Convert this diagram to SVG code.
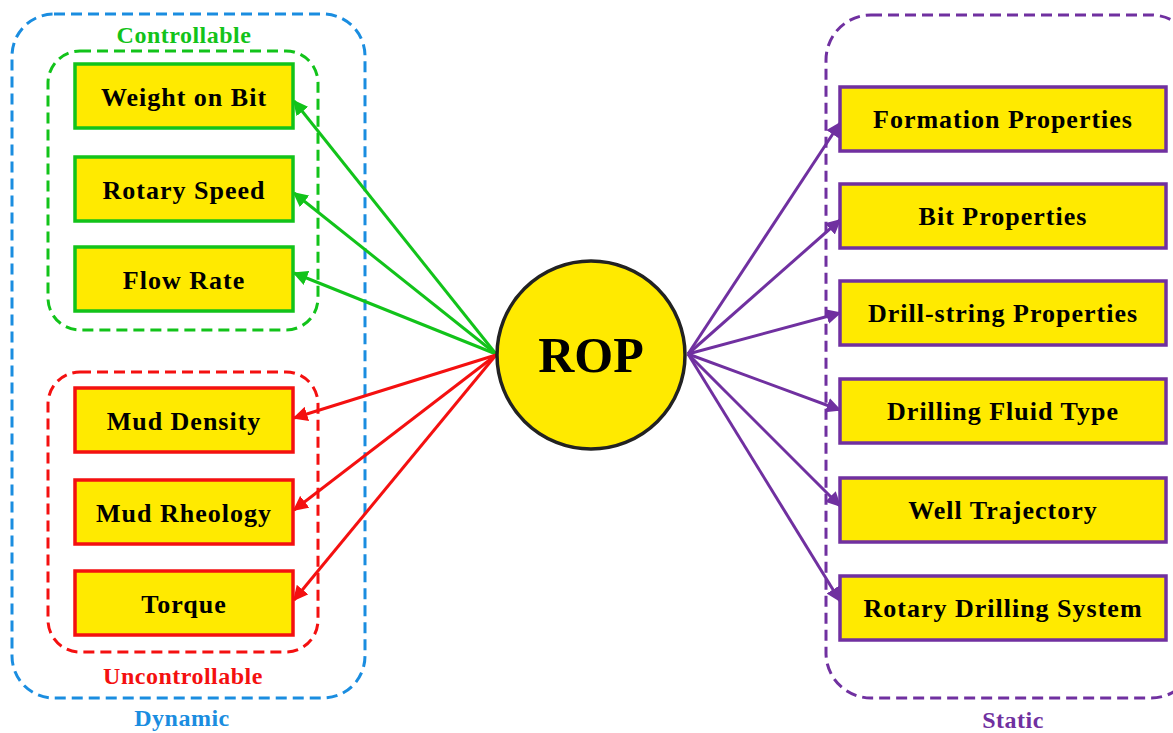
<svg xmlns="http://www.w3.org/2000/svg" width="1173" height="733" viewBox="0 0 1173 733">
<style>
.box{fill:#FFEA00;stroke-width:3.5}
.bt{font-family:"Liberation Serif",serif;font-weight:bold;font-size:26px;letter-spacing:1px;text-anchor:middle;fill:#000}
.lbl{font-family:"Liberation Serif",serif;font-weight:bold;font-size:24px;letter-spacing:0.5px;text-anchor:middle}
.dash{fill:none;stroke-width:3;stroke-dasharray:11 6}
.g{stroke:#12C31A}.r{stroke:#F41010}.p{stroke:#7030A0}.b{stroke:#1A8DE0}
.conn line{stroke-width:3}
</style>
<defs>
<marker id="ag" viewBox="0 0 10 10" refX="9" refY="5" markerWidth="5" markerHeight="5" orient="auto" markerUnits="strokeWidth"><path d="M0,0 L10,5 L0,10 z" fill="#12C31A"/></marker>
<marker id="ar" viewBox="0 0 10 10" refX="9" refY="5" markerWidth="5" markerHeight="5" orient="auto" markerUnits="strokeWidth"><path d="M0,0 L10,5 L0,10 z" fill="#F41010"/></marker>
<marker id="ap" viewBox="0 0 10 10" refX="9" refY="5" markerWidth="5" markerHeight="5" orient="auto" markerUnits="strokeWidth"><path d="M0,0 L10,5 L0,10 z" fill="#7030A0"/></marker>
</defs>
<rect width="1173" height="733" fill="#fff"/>

<g id="group-dynamic">
<rect class="dash b" x="12" y="14" width="353" height="684" rx="42"/>
<text class="lbl" x="182" y="726" fill="#1A8DE0">Dynamic</text>
</g>
<g id="group-controllable">
<rect class="dash g" x="48" y="51" width="270" height="279" rx="32"/>
<text class="lbl" x="184" y="43" fill="#12C31A">Controllable</text>
</g>
<g id="group-uncontrollable">
<rect class="dash r" x="48" y="372" width="270" height="280" rx="32"/>
<text class="lbl" x="183" y="684" fill="#F41010">Uncontrollable</text>
</g>
<g id="group-static">
<rect class="dash p" x="826" y="15" width="370" height="683" rx="45"/>
<text class="lbl" x="1013" y="728" fill="#7030A0">Static</text>
</g>

<g id="connectors" class="conn">
<line x1="496" y1="354" x2="294" y2="101" class="g" marker-end="url(#ag)"/>
<line x1="496" y1="354" x2="294" y2="193" class="g" marker-end="url(#ag)"/>
<line x1="496" y1="354" x2="294" y2="273" class="g" marker-end="url(#ag)"/>
<line x1="496" y1="355" x2="294" y2="418" class="r" marker-end="url(#ar)"/>
<line x1="496" y1="355" x2="294" y2="510" class="r" marker-end="url(#ar)"/>
<line x1="496" y1="355" x2="294" y2="600" class="r" marker-end="url(#ar)"/>
<line x1="688" y1="354" x2="840" y2="123" class="p" marker-end="url(#ap)"/>
<line x1="688" y1="354" x2="840" y2="220" class="p" marker-end="url(#ap)"/>
<line x1="688" y1="354" x2="840" y2="313" class="p" marker-end="url(#ap)"/>
<line x1="688" y1="354" x2="840" y2="410" class="p" marker-end="url(#ap)"/>
<line x1="688" y1="354" x2="840" y2="506" class="p" marker-end="url(#ap)"/>
<line x1="688" y1="354" x2="840" y2="601" class="p" marker-end="url(#ap)"/>
</g>

<g id="rop">
<circle cx="591" cy="355" r="94" fill="#FFEA00" stroke="#222" stroke-width="3.5"/>
<text x="591" y="372" font-family="Liberation Serif, serif" font-weight="bold" font-size="50" text-anchor="middle">ROP</text>
</g>

<g id="weight-on-bit"><rect class="box g" x="75" y="64" width="218" height="64"/><text class="bt" x="184" y="106">Weight on Bit</text></g>
<g id="rotary-speed"><rect class="box g" x="75" y="157" width="218" height="64"/><text class="bt" x="184" y="199">Rotary Speed</text></g>
<g id="flow-rate"><rect class="box g" x="75" y="247" width="218" height="64"/><text class="bt" x="184" y="289">Flow Rate</text></g>
<g id="mud-density"><rect class="box r" x="75" y="388" width="218" height="64"/><text class="bt" x="184" y="430">Mud Density</text></g>
<g id="mud-rheology"><rect class="box r" x="75" y="480" width="218" height="64"/><text class="bt" x="184" y="522">Mud Rheology</text></g>
<g id="torque"><rect class="box r" x="75" y="571" width="218" height="64"/><text class="bt" x="184" y="613">Torque</text></g>

<g id="formation-properties"><rect class="box p" x="840" y="87" width="326" height="64"/><text class="bt" x="1003" y="128">Formation Properties</text></g>
<g id="bit-properties"><rect class="box p" x="840" y="184" width="326" height="64"/><text class="bt" x="1003" y="225">Bit Properties</text></g>
<g id="drill-string-properties"><rect class="box p" x="840" y="281" width="326" height="64"/><text class="bt" x="1003" y="322">Drill-string Properties</text></g>
<g id="drilling-fluid-type"><rect class="box p" x="840" y="379" width="326" height="64"/><text class="bt" x="1003" y="420">Drilling Fluid Type</text></g>
<g id="well-trajectory"><rect class="box p" x="840" y="478" width="326" height="64"/><text class="bt" x="1003" y="519">Well Trajectory</text></g>
<g id="rotary-drilling-system"><rect class="box p" x="840" y="576" width="326" height="64"/><text class="bt" x="1003" y="617">Rotary Drilling System</text></g>
</svg>
